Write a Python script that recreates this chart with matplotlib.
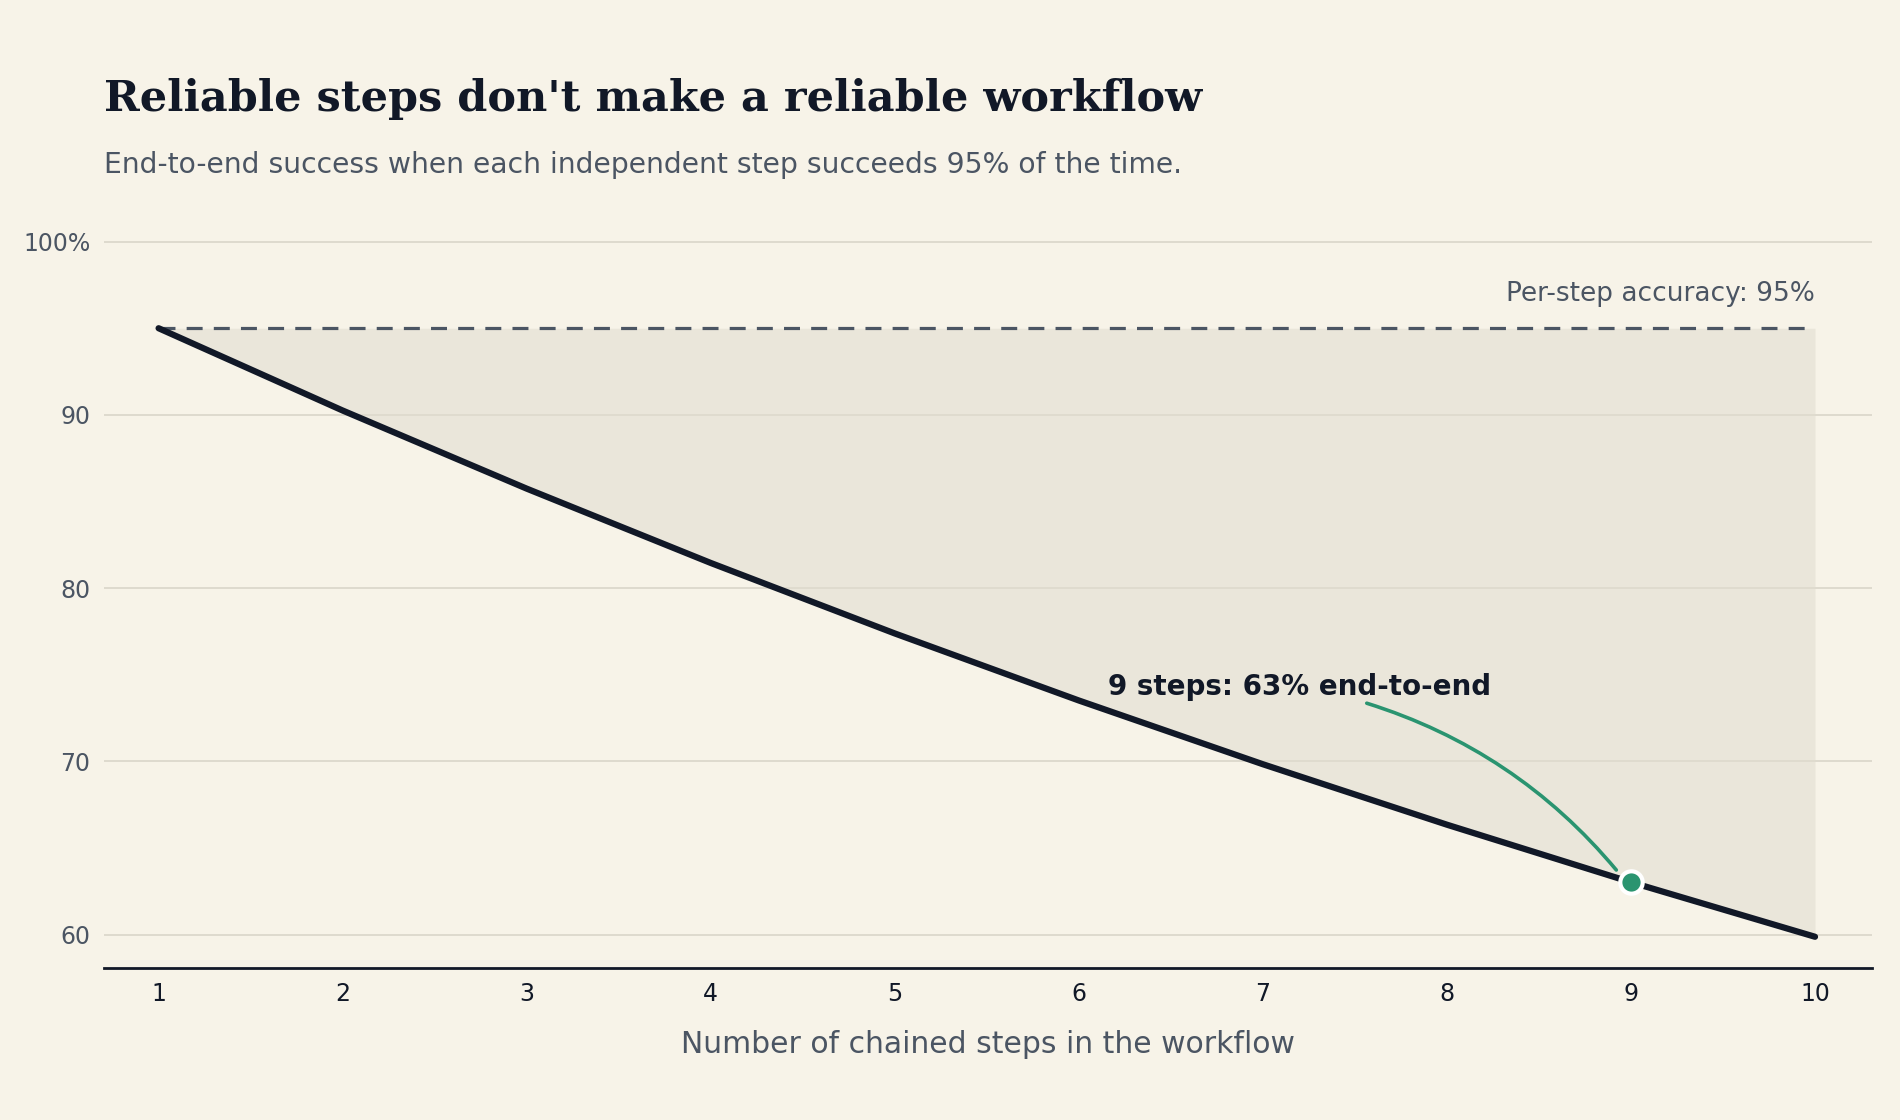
import matplotlib.pyplot as plt

steps = [1, 2, 3, 4, 5, 6, 7, 8, 9, 10]
success = [95.0, 90.25, 85.74, 81.45, 77.38, 73.51, 69.83, 66.34, 63.02, 59.87]
per_step = 95
y_ticks = [60, 70, 80, 90, 100]
y_labels = ['60', '70', '80', '90', '100%']

BG = '#f7f3e8'
INK = '#111827'
GREY = '#4b5563'
GREEN = '#2a9470'

fig = plt.figure(figsize=(19, 11.2), dpi=100, facecolor=BG)
ax = fig.add_axes([0.0548, 0.1353, 0.9305, 0.6567], facecolor=BG)

ax.fill_between(steps, success, per_step, color='#e0dccf', alpha=0.55, lw=0, zorder=1)
ax.plot([steps[0], steps[-1]], [per_step, per_step], ls=(0, (5, 3.5)), color=GREY, lw=2.3, zorder=2)
ax.plot(steps, success, color=INK, lw=4.5, solid_capstyle='round', zorder=3)
ax.scatter([9], [success[8]], s=260, color=GREEN, edgecolor='white', linewidth=3, zorder=4)

ax.text(10, 96.2, 'Per-step accuracy: 95%', ha='right', va='bottom', fontsize=19, color=GREY)
ax.text(7.2, 74.3, '9 steps: 63% end-to-end', ha='center', va='center', fontsize=20, fontweight='bold', color=INK)
ax.annotate('', xy=(8.93, 63.6), xytext=(7.55, 73.4),
            arrowprops=dict(arrowstyle='-', color=GREEN, lw=2.6, connectionstyle='arc3,rad=-0.15'))

ax.set_xlim(0.704, 10.31)
ax.set_ylim(58.04, 100.5)
ax.set_xticks(steps)
ax.set_yticks(y_ticks)
ax.set_yticklabels(y_labels)
ax.tick_params(axis='both', length=0, labelsize=17, labelcolor=GREY)
ax.tick_params(axis='x', pad=10, labelcolor=INK)
ax.tick_params(axis='y', pad=10)
ax.grid(axis='y', color='#dcd8cc', lw=1.3)
ax.set_axisbelow(True)
for s in ['top', 'right', 'left']:
    ax.spines[s].set_visible(False)
ax.spines['bottom'].set_color(INK)
ax.spines['bottom'].set_linewidth(2)
ax.set_xlabel('Number of chained steps in the workflow', fontsize=21.5, color=GREY, labelpad=17)

fig.text(0.0548, 0.912, "Reliable steps don't make a reliable workflow", fontsize=31,
         fontweight='bold', family='DejaVu Serif', color=INK, va='center')
fig.text(0.0548, 0.853, 'End-to-end success when each independent step succeeds 95% of the time.',
         fontsize=20.3, color=GREY, va='center')

fig.savefig('out.png', dpi=100, facecolor=BG)
